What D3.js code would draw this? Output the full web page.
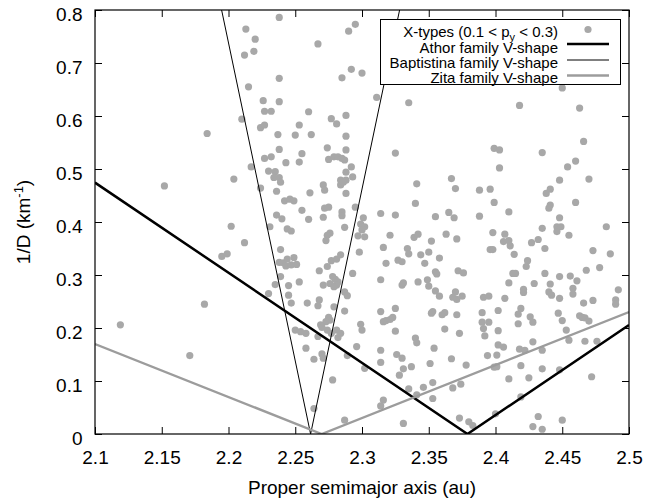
<!DOCTYPE html>
<html>
<head>
<meta charset="utf-8">
<script src="https://cdn.jsdelivr.net/npm/d3@7"></script>
<style>
  body { margin: 0; background: #fff; }
  svg { display: block; }
  text { font-family: "Liberation Sans", Arial, Helvetica, sans-serif; fill: #000; }
</style>
</head>
<body>
<svg id="chart" width="646" height="503"></svg>
<script>
// X-type asteroids (0.1 < p_V < 0.3): [proper semimajor axis (au), 1/D (km^-1)]
const xTypes = [
  [2.238,0.786],[2.213,0.764],[2.220,0.745],[2.212,0.715],[2.219,0.722],[2.267,0.736],[2.295,0.773],[2.290,0.760],
  [2.238,0.671],[2.215,0.655],[2.292,0.688],[2.300,0.681],[2.285,0.672],[2.226,0.629],[2.238,0.627],[2.227,0.609],
  [2.232,0.609],[2.260,0.608],[2.210,0.594],[2.277,0.595],[2.281,0.585],[2.288,0.601],[2.253,0.583],[2.224,0.578],
  [2.227,0.583],[2.237,0.565],[2.250,0.564],[2.262,0.565],[2.288,0.562],[2.274,0.540],[2.238,0.537],[2.288,0.536],
  [2.255,0.529],[2.227,0.520],[2.232,0.523],[2.275,0.518],[2.279,0.523],[2.282,0.523],[2.285,0.520],[2.287,0.517],
  [2.243,0.512],[2.253,0.513],[2.184,0.567],[2.152,0.468],
  [2.217,0.504],[2.230,0.496],[2.235,0.495],[2.234,0.484],[2.238,0.484],[2.239,0.475],[2.204,0.481],[2.224,0.464],
  [2.236,0.458],[2.242,0.440],[2.246,0.443],[2.249,0.440],[2.261,0.455],[2.271,0.470],[2.272,0.460],[2.284,0.479],
  [2.288,0.479],[2.284,0.470],[2.286,0.475],[2.288,0.494],[2.293,0.485],[2.292,0.504],[2.288,0.454],[2.255,0.422],
  [2.236,0.413],[2.240,0.406],[2.260,0.405],[2.272,0.426],[2.275,0.428],[2.271,0.409],[2.285,0.419],[2.285,0.412],
  [2.295,0.428],[2.301,0.408],[2.299,0.396],[2.302,0.391],[2.300,0.385],[2.297,0.374],[2.302,0.372],[2.202,0.392],
  [2.231,0.391],[2.244,0.387],[2.247,0.383],[2.287,0.390],[2.276,0.379],[2.274,0.375],[2.273,0.365],[2.212,0.361],
  [2.239,0.348],
  [2.195,0.335],[2.199,0.340],[2.238,0.324],[2.241,0.323],[2.244,0.330],[2.249,0.333],[2.243,0.317],[2.247,0.319],
  [2.251,0.320],[2.239,0.297],[2.235,0.282],[2.245,0.280],[2.253,0.287],[2.230,0.265],[2.245,0.262],[2.247,0.247],
  [2.259,0.247],[2.268,0.308],[2.274,0.316],[2.277,0.327],[2.281,0.330],[2.284,0.338],[2.271,0.281],[2.276,0.284],
  [2.278,0.297],[2.280,0.292],[2.282,0.287],[2.281,0.281],[2.279,0.278],[2.287,0.268],[2.289,0.261],[2.293,0.303],
  [2.298,0.343],[2.299,0.207],[2.300,0.196],[2.268,0.253],[2.267,0.242],[2.279,0.240],[2.287,0.232],[2.275,0.220],
  [2.276,0.215],[2.273,0.212],[2.269,0.206],[2.270,0.201],[2.267,0.184],[2.274,0.196],[2.277,0.190],[2.281,0.196],
  [2.282,0.182],[2.284,0.190],[2.250,0.196],[2.254,0.193],[2.258,0.190],[2.258,0.162],[2.264,0.141],[2.270,0.151],
  [2.271,0.143],[2.289,0.148],[2.296,0.165],[2.302,0.124],[2.278,0.102],[2.264,0.048],[2.287,0.026],[2.182,0.245],
  [2.119,0.206],[2.171,0.148],
  [2.311,0.635],[2.335,0.625],[2.450,0.653],[2.418,0.620],[2.463,0.615],[2.466,0.552],[2.325,0.530],[2.399,0.539],
  [2.403,0.536],[2.435,0.531],[2.403,0.502],[2.460,0.515],[2.454,0.504],[2.448,0.479],[2.470,0.481],[2.341,0.472],
  [2.367,0.482],[2.370,0.463],[2.388,0.460],[2.396,0.462],[2.438,0.454],[2.441,0.462],[2.340,0.435],[2.399,0.437],
  [2.441,0.432],[2.440,0.426],[2.460,0.437],[2.314,0.416],[2.325,0.413],[2.355,0.410],[2.365,0.418],[2.369,0.408],
  [2.388,0.411],[2.410,0.419],[2.448,0.408],[2.435,0.388],[2.446,0.391],[2.449,0.391],[2.446,0.382],[2.483,0.391],
  [2.321,0.375],[2.339,0.371],[2.342,0.377],[2.363,0.377],[2.371,0.368],[2.398,0.380],[2.407,0.377],[2.406,0.363],
  [2.410,0.365],[2.411,0.355],[2.352,0.364],[2.455,0.375],[2.427,0.361],[2.432,0.367],[2.316,0.352],[2.334,0.350],
  [2.335,0.340],[2.350,0.343],[2.344,0.338],[2.358,0.332],[2.327,0.328],[2.330,0.325],[2.318,0.322],[2.347,0.322],
  [2.396,0.348],[2.398,0.348],[2.414,0.339],[2.424,0.327],[2.437,0.350],[2.473,0.346],[2.486,0.340],
  [2.355,0.306],[2.356,0.302],[2.372,0.308],[2.376,0.304],[2.413,0.303],[2.415,0.303],[2.423,0.316],[2.437,0.303],
  [2.448,0.297],[2.456,0.298],[2.468,0.309],[2.478,0.314],[2.314,0.291],[2.330,0.281],[2.331,0.285],[2.342,0.287],
  [2.349,0.291],[2.350,0.279],[2.355,0.270],[2.358,0.260],[2.370,0.268],[2.368,0.258],[2.371,0.254],[2.375,0.260],
  [2.410,0.285],[2.421,0.273],[2.421,0.267],[2.429,0.284],[2.441,0.283],[2.440,0.268],[2.442,0.262],[2.448,0.256],
  [2.461,0.289],[2.458,0.275],[2.458,0.264],[2.466,0.247],[2.473,0.252],[2.490,0.253],[2.490,0.245],[2.492,0.272],
  [2.391,0.258],[2.395,0.260],[2.407,0.256],[2.417,0.226],[2.419,0.237],[2.402,0.233],[2.390,0.229],[2.371,0.225],
  [2.362,0.229],[2.360,0.225],[2.353,0.231],[2.352,0.228],[2.314,0.231],[2.316,0.212],[2.318,0.214],[2.321,0.216],
  [2.323,0.220],[2.325,0.237],[2.325,0.194],[2.362,0.198],[2.373,0.190],[2.390,0.211],[2.395,0.211],[2.391,0.199],
  [2.392,0.185],[2.402,0.195],[2.417,0.208],[2.426,0.221],[2.428,0.211],[2.447,0.228],[2.450,0.214],[2.463,0.223],
  [2.465,0.220],[2.467,0.219],[2.470,0.213],[2.453,0.196],[2.428,0.174],[2.435,0.158],[2.455,0.177],[2.467,0.175],
  [2.476,0.175],[2.402,0.168],[2.406,0.164],[2.394,0.148],[2.401,0.149],[2.418,0.160],[2.422,0.158],[2.378,0.130],
  [2.367,0.142],[2.354,0.162],[2.340,0.181],[2.341,0.172],[2.326,0.150],[2.330,0.143],[2.331,0.123],[2.328,0.111],
  [2.314,0.158],[2.314,0.135],[2.337,0.127],[2.351,0.133],[2.399,0.126],[2.401,0.127],[2.419,0.129],[2.435,0.123],
  [2.448,0.121],[2.410,0.104],[2.425,0.106],[2.472,0.108],[2.368,0.087],[2.374,0.094],[2.353,0.097],[2.346,0.088],
  [2.335,0.085],[2.341,0.074],[2.353,0.067],[2.316,0.064],[2.314,0.053],[2.373,0.030],[2.380,0.023],[2.383,0.016],
  [2.331,0.020],[2.400,0.038],[2.419,0.070],[2.432,0.033],[2.428,0.014],[2.435,0.009],[2.450,0.026]
];

// Family V-shapes: 1/D = slope * |a - a_center|
const families  = ["Athor", "Baptistina", "Zita"];
const vCenters  = [2.379, 2.2615, 2.2698];
const vSlopes   = [1.70, 12.0, 1.0];

// Axis ticks
const xTicks = [2.1, 2.15, 2.2, 2.25, 2.3, 2.35, 2.4, 2.45, 2.5];
const xTickLabels = ["2.1", "2.15", "2.2", "2.25", "2.3", "2.35", "2.4", "2.45", "2.5"];
const yTicks = [0, 0.1, 0.2, 0.3, 0.4, 0.5, 0.6, 0.7, 0.8];
const yTickLabels = ["0", "0.1", "0.2", "0.3", "0.4", "0.5", "0.6", "0.7", "0.8"];

(function drawChart() {
  const lineStyles = {
    Athor:      { color: "#000000", width: 2.5 },
    Baptistina: { color: "#000000", width: 1 },
    Zita:       { color: "#9c9c9c", width: 2.4 }
  };
  const pointColor = "#a8a8a8";

  const m = { left: 95, right: 629, top: 10, bottom: 434 };
  const x = d3.scaleLinear().domain([2.1, 2.5]).range([m.left, m.right]);
  const y = d3.scaleLinear().domain([0, 0.8]).range([m.bottom, m.top]);

  const svg = d3.select("#chart");

  svg.append("defs").append("clipPath").attr("id", "plot-clip")
    .append("rect").attr("x", m.left).attr("y", m.top)
    .attr("width", m.right - m.left).attr("height", m.bottom - m.top);

  const plot = svg.append("g").attr("clip-path", "url(#plot-clip)");

  // scatter points
  plot.selectAll("circle.pt").data(xTypes).join("circle")
    .attr("class", "pt")
    .attr("cx", d => x(d[0]))
    .attr("cy", d => y(d[1]))
    .attr("r", 3.6)
    .attr("fill", pointColor);

  // V-shape lines
  const line = d3.line().x(d => x(d[0])).y(d => y(d[1]));
  families.forEach((f, i) => {
    const c = vCenters[i], s = vSlopes[i];
    const pts = [[2.1, s * (c - 2.1)], [c, 0], [2.5, s * (2.5 - c)]];
    plot.append("path")
      .attr("d", line(pts))
      .attr("fill", "none")
      .attr("stroke", lineStyles[f].color)
      .attr("stroke-width", lineStyles[f].width)
      .attr("stroke-linejoin", "miter");
  });

  // axes with inward ticks on all four sides
  const tick = 7;
  const gx = svg.append("g").attr("transform", `translate(0,${m.bottom})`)
    .call(d3.axisBottom(x).tickValues(xTicks).tickSizeInner(-tick).tickSizeOuter(0)
      .tickFormat((d, i) => xTickLabels[i]));
  const gy = svg.append("g").attr("transform", `translate(${m.left},0)`)
    .call(d3.axisLeft(y).tickValues(yTicks).tickSizeInner(-tick).tickSizeOuter(0)
      .tickFormat((d, i) => yTickLabels[i]));
  const gt = svg.append("g").attr("transform", `translate(0,${m.top})`)
    .call(d3.axisTop(x).tickValues(xTicks).tickSizeInner(-tick).tickSizeOuter(0).tickFormat(""));
  const gr = svg.append("g").attr("transform", `translate(${m.right},0)`)
    .call(d3.axisRight(y).tickValues(yTicks).tickSizeInner(-tick).tickSizeOuter(0).tickFormat(""));

  [gx, gy, gt, gr].forEach(g => {
    g.select(".domain").remove();
    g.selectAll("line").attr("stroke", "#000").attr("stroke-width", 1);
    g.attr("font-family", null).attr("font-size", null);
  });
  gx.selectAll("text").attr("y", 29.5).attr("dy", null).style("font-size", "19px");
  gy.selectAll("text").attr("x", -12.5).attr("dy", null).attr("y", 10.5).style("font-size", "19px");

  // frame
  svg.append("rect")
    .attr("x", m.left).attr("y", m.top)
    .attr("width", m.right - m.left).attr("height", m.bottom - m.top)
    .attr("fill", "none").attr("stroke", "#000").attr("stroke-width", 1.2);

  // axis titles
  svg.append("text")
    .attr("x", (m.left + m.right) / 2).attr("y", 493.5)
    .attr("text-anchor", "middle").style("font-size", "19px")
    .text("Proper semimajor axis (au)");

  const yt = svg.append("text")
    .attr("transform", `translate(29.5,${(m.top + m.bottom) / 2}) rotate(-90)`)
    .attr("text-anchor", "middle").style("font-size", "19px");
  yt.append("tspan").text("1/D (km");
  yt.append("tspan").attr("dy", -7).style("font-size", "13px").text("-1");
  yt.append("tspan").attr("dy", 7).text(")");

  // legend
  const lg = svg.append("g");
  lg.append("rect")
    .attr("x", 380.5).attr("y", 19.5).attr("width", 240).attr("height", 65)
    .attr("fill", "#fff").attr("stroke", "#000").attr("stroke-width", 1);

  const textX = 558, sampleX0 = 567, sampleX1 = 609;
  const t0 = lg.append("text").attr("x", textX).attr("y", 37.3)
    .attr("text-anchor", "end").style("font-size", "15px");
  t0.append("tspan").text("X-types (0.1 < p");
  t0.append("tspan").attr("dy", 4).style("font-size", "11px").text("y");
  t0.append("tspan").attr("dy", -4).text(" < 0.3)");
  lg.append("circle").attr("cx", 588).attr("cy", 29.5).attr("r", 3.6).attr("fill", pointColor);

  const rowBase = [52.5, 67.7, 83];
  const rowLine = [44, 60, 75.5];
  families.forEach((f, i) => {
    lg.append("text").attr("x", textX).attr("y", rowBase[i])
      .attr("text-anchor", "end").style("font-size", "15px")
      .text(`${f} family V-shape`);
    lg.append("line")
      .attr("x1", sampleX0).attr("x2", sampleX1)
      .attr("y1", rowLine[i]).attr("y2", rowLine[i])
      .attr("stroke", lineStyles[f].color)
      .attr("stroke-width", lineStyles[f].width);
  });
})();
</script>
</body>
</html>
